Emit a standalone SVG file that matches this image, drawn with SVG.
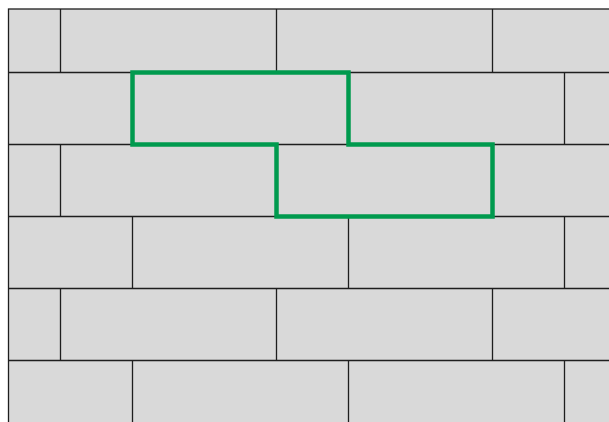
<svg xmlns="http://www.w3.org/2000/svg" width="609" height="422" viewBox="0 0 609 422">
<style>
.j{stroke:#1e1e1e;stroke-width:1.3;fill:none}
.sel{stroke:#009A4E;stroke-width:4.5;fill:none;stroke-linejoin:miter}
</style>
<rect width="609" height="422" fill="#ffffff"/>
<g id="wall">
<rect x="8.5" y="9" width="620" height="430" fill="#D9D9D9" stroke="#1e1e1e" stroke-width="1.3"/>
<path class="j" d="M8.5 72.5H609M8.5 144.5H609M8.5 216.5H609M8.5 288.5H609M8.5 360.5H609"/>
<path class="j" d="M60.5 9V72.5M276.5 9V72.5M492.5 9V72.5
M132.5 72.5V144.5M348.5 72.5V144.5M564.5 72.5V144.5
M60.5 144.5V216.5M276.5 144.5V216.5M492.5 144.5V216.5
M132.5 216.5V288.5M348.5 216.5V288.5M564.5 216.5V288.5
M60.5 288.5V360.5M276.5 288.5V360.5M492.5 288.5V360.5
M132.5 360.5V422M348.5 360.5V422M564.5 360.5V422"/>
</g>
<g id="selection">
<path class="sel" d="M132.5 72.5H348.5V144.5H492.5V216.5H276.5V144.5H132.5Z"/>
</g>
</svg>
